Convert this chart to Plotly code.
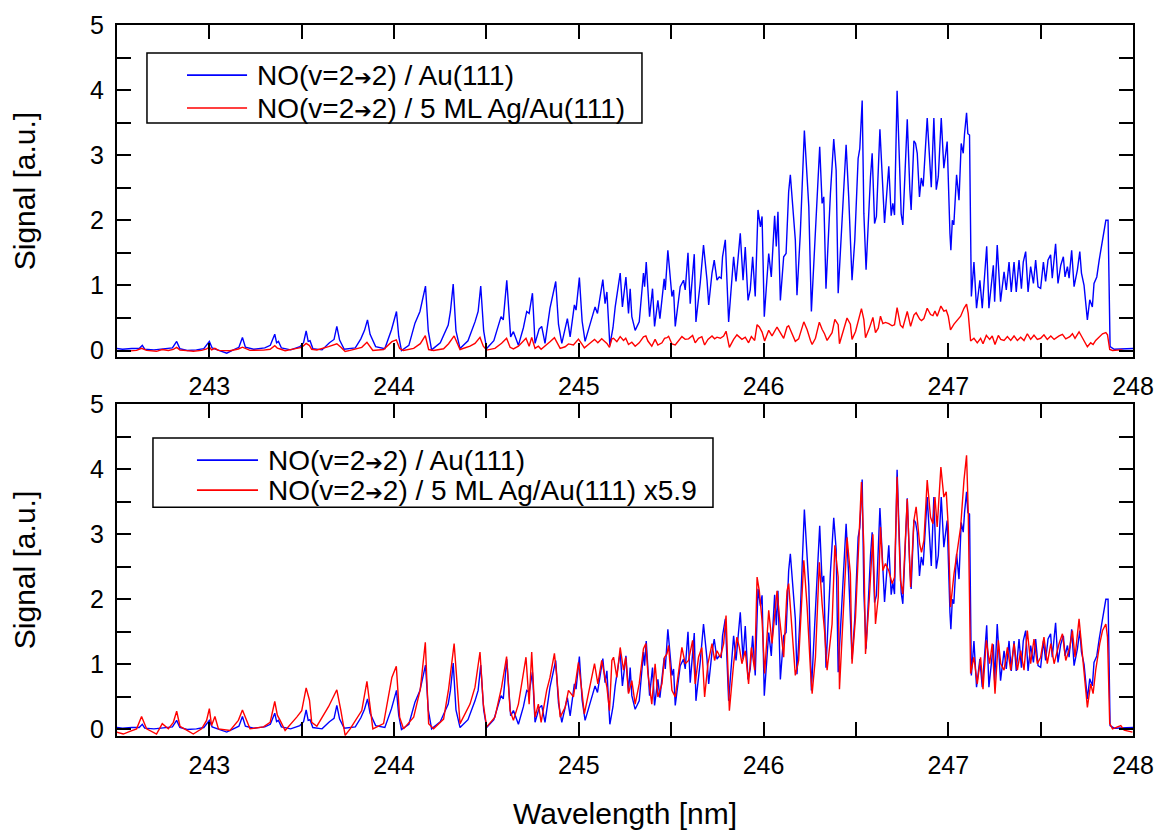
import plotly.graph_objects as go

# ---------------- data ----------------
# NO(v=2->2) / Au(111)  : wavelength [nm], signal [a.u.]
au_wl = [
    242.50, 242.53, 242.58, 242.62, 242.637, 242.65, 242.70, 242.75, 242.80, 242.823, 242.84, 242.88,
    242.93, 242.97, 243.00, 243.015, 243.05, 243.094, 243.13, 243.16, 243.179, 243.195, 243.24, 243.30,
    243.33, 243.354, 243.364, 243.374, 243.39, 243.44, 243.49, 243.51, 243.524, 243.535, 243.545, 243.56,
    243.61, 243.65, 243.675, 243.69, 243.705, 243.73, 243.79, 243.82, 243.84, 243.856, 243.87, 243.90,
    243.95, 243.986, 244.013, 244.025, 244.04,
    244.08, 244.113, 244.14, 244.17, 244.185, 244.203, 244.25, 244.293, 244.305, 244.32, 244.335, 244.357,
    244.40, 244.438, 244.455, 244.469, 244.485, 244.501, 244.54, 244.579, 244.591, 244.61, 244.631, 244.646,
    244.673, 244.70, 244.718, 244.731, 244.749, 244.763, 244.785, 244.799, 244.817, 244.844, 244.875, 244.89,
    244.908, 244.938, 244.953, 244.976, 244.985, 245.003, 245.018, 245.034, 245.06, 245.088, 245.101, 245.13,
    245.142, 245.152, 245.168, 245.185,
    245.197, 245.224, 245.236, 245.255, 245.269, 245.278, 245.287, 245.305, 245.327, 245.35, 245.356, 245.365,
    245.383, 245.399, 245.41, 245.428, 245.439, 245.462, 245.468, 245.482, 245.504, 245.513, 245.522, 245.549,
    245.567, 245.576, 245.591, 245.603, 245.625, 245.634, 245.657, 245.675, 245.694, 245.703, 245.721, 245.733,
    245.748, 245.76, 245.771, 245.778, 245.793, 245.811, 245.838, 245.851, 245.874, 245.889, 245.901, 245.916,
    245.928, 245.941, 245.955, 245.97, 245.983, 245.992, 246.004, 246.028, 246.042, 246.06, 246.069, 246.078,
    246.091, 246.109, 246.122, 246.136, 246.145, 246.154, 246.172, 246.181, 246.199, 246.221, 246.236, 246.245,
    246.259, 246.281, 246.304, 246.317, 246.326, 246.338, 246.362, 246.38, 246.393, 246.404, 246.431, 246.447,
    246.461, 246.479, 246.494, 246.512, 246.521, 246.534, 246.543, 246.555,
    246.579, 246.588, 246.601, 246.611, 246.63, 246.639, 246.646, 246.655, 246.678, 246.691, 246.70, 246.709,
    246.723, 246.738, 246.745, 246.754, 246.778, 246.792, 246.799, 246.814, 246.823, 246.832, 246.844, 246.854,
    246.864, 246.886, 246.895, 246.908, 246.922, 246.935, 246.946, 246.962, 246.976, 246.994, 247.009, 247.014,
    247.022, 247.03, 247.045, 247.058, 247.07, 247.081, 247.088, 247.099, 247.106, 247.115, 247.125, 247.139,
    247.153, 247.171, 247.184, 247.208, 247.22, 247.244, 247.251, 247.265, 247.283, 247.302, 247.314, 247.329,
    247.341, 247.356, 247.368, 247.383, 247.396, 247.406, 247.419, 247.432, 247.446, 247.461, 247.473, 247.486,
    247.50, 247.515, 247.527, 247.54, 247.554, 247.563, 247.581, 247.594, 247.609, 247.623, 247.632, 247.645,
    247.654, 247.668, 247.681, 247.699, 247.712, 247.721, 247.735, 247.753, 247.766, 247.78, 247.789, 247.804,
    247.817, 247.829, 247.838, 247.853, 247.865, 247.876, 247.898, 247.952, 248.00,
]
au_sig = [
    0.03, 0.02, 0.03, 0.03, 0.08, 0.02, 0.01, 0.02, 0.04, 0.14, 0.03, 0.00,
    0.01, 0.03, 0.14, 0.04, 0.00, -0.04, 0.01, 0.05, 0.20, 0.05, 0.02, 0.04,
    0.08, 0.25, 0.12, 0.14, 0.04, 0.01, 0.06, 0.12, 0.30, 0.14, 0.15, 0.03,
    0.01, 0.12, 0.17, 0.37, 0.16, 0.02, 0.04, 0.18, 0.31, 0.47, 0.25, 0.06,
    0.03, 0.32, 0.60, 0.22, 0.00,
    0.08, 0.42, 0.60, 0.99, 0.30, 0.01, 0.12, 0.39, 0.60, 1.02, 0.30, 0.03,
    0.15, 0.44, 0.60, 0.99, 0.30, 0.03, 0.15, 0.52, 0.47, 1.08, 0.21, 0.29,
    0.08, 0.35, 0.60, 0.57, 0.88, 0.11, 0.33, 0.37, 0.11, 0.65, 1.06, 0.40,
    0.11, 0.49, 0.21, 0.70, 0.62, 1.12, 0.45, 0.14, 0.40, 0.67, 0.57, 1.09,
    0.72, 0.90, 0.08, 0.35,
    0.67, 1.19, 0.67, 1.13, 0.57, 0.95, 0.52, 0.31, 0.44, 1.19, 0.98, 1.36,
    0.52, 0.95, 0.37, 0.77, 0.49, 1.10, 0.93, 1.54, 0.83, 0.93, 0.37, 0.98,
    1.08, 0.93, 1.50, 0.72, 1.48, 0.44, 1.03, 1.62, 1.08, 0.70, 1.19, 1.39,
    1.08, 1.13, 1.11, 1.44, 1.70, 0.44, 1.44, 1.06, 1.80, 1.08, 1.59, 0.77,
    0.93, 1.44, 0.83, 2.16, 1.90, 2.06, 0.52, 1.49, 1.13, 2.07, 1.60, 2.13,
    0.77, 1.44, 1.49, 2.44, 2.70, 2.39, 1.70, 0.85, 1.80, 3.38, 2.57, 2.21,
    0.60, 1.80, 3.13, 2.26, 2.36, 0.95, 2.41, 3.25, 2.77, 0.88, 2.36, 3.16,
    2.36, 1.08, 1.70, 2.95, 3.10, 3.84, 2.11, 1.24,
    2.67, 3.03, 1.95, 2.06, 3.40, 2.87, 2.44, 1.96, 2.83, 2.07, 2.26, 2.08,
    3.99, 2.72, 2.10, 1.93, 3.55, 2.47, 2.16, 3.22, 3.18, 3.03, 2.36, 2.65,
    2.52, 3.57, 3.08, 2.51, 3.57, 2.47, 2.67, 3.57, 2.80, 3.21, 1.80, 1.54,
    2.00, 1.93, 2.70, 2.31, 3.18, 3.03, 3.33, 3.65, 3.33, 3.31, 0.83, 1.36,
    0.65, 1.08, 0.65, 1.60, 0.65, 1.31, 0.75, 1.62, 0.75, 1.21, 0.93, 1.36,
    0.90, 1.36, 0.90, 1.39, 0.95, 1.36, 1.52, 0.90, 1.29, 1.03, 1.39, 0.98,
    0.955, 1.36, 1.06, 1.39, 1.47, 1.11, 1.64, 1.03, 1.31, 1.44, 1.13, 1.29,
    1.11, 1.54, 0.98, 1.24, 1.52, 1.19, 1.00, 0.47, 0.78, 0.67, 1.03, 1.13,
    1.39, 1.60, 1.75, 2.00, 2.00, 0.06, 0.02, 0.03, 0.03,
]

# NO(v=2->2) / 5 ML Ag/Au(111), already multiplied by SCALE (as drawn in the lower panel)
SCALE = 5.9
ag_wl = [
    242.498, 242.534, 242.57, 242.606, 242.633, 242.66, 242.714, 242.745, 242.778, 242.805, 242.823, 242.841,
    242.877, 242.913, 242.958, 242.985, 243.00, 243.012, 243.03, 243.049, 243.112, 243.157, 243.179, 243.193,
    243.22, 243.293, 243.329, 243.354, 243.368, 243.383, 243.41, 243.473, 243.50, 243.524, 243.542, 243.554,
    243.582, 243.645, 243.69, 243.712, 243.735, 243.762, 243.825, 243.853, 243.867, 243.885, 243.943, 243.988,
    244.012, 244.03, 244.051, 244.106, 244.142, 244.169, 244.187, 244.214, 244.268, 244.295, 244.325,
    244.357, 244.411, 244.438, 244.465, 244.483, 244.501, 244.546, 244.582, 244.609, 244.628, 244.646, 244.673,
    244.691, 244.714, 244.731, 244.745, 244.763, 244.781, 244.796, 244.826, 244.844, 244.868, 244.881, 244.899,
    244.926, 244.944, 244.971, 244.998, 245.016, 245.03, 245.052, 245.07, 245.085, 245.103, 245.124, 245.137,
    245.152, 245.166, 245.179, 245.188, 245.206, 245.224, 245.242, 245.254, 245.269, 245.287, 245.305, 245.327,
    245.35, 245.363, 245.374, 245.395, 245.413, 245.428, 245.45, 245.464, 245.477, 245.486, 245.504, 245.522,
    245.544, 245.558, 245.576, 245.594, 245.616, 245.63, 245.648, 245.666, 245.681, 245.699, 245.721, 245.735,
    245.748, 245.766, 245.784, 245.797, 245.815, 245.838, 245.856, 245.869, 245.883, 245.901, 245.919, 245.934,
    245.952, 245.965, 245.977, 245.992, 246.006, 246.028, 246.046, 246.073, 246.086, 246.109, 246.127, 246.136,
    246.172, 246.19, 246.218, 246.236, 246.254, 246.263, 246.281, 246.302, 246.317, 246.33, 246.344, 246.371,
    246.386, 246.404, 246.411, 246.425, 246.452, 246.47, 246.479, 246.498, 246.516, 246.53, 246.543, 246.552,
    246.573, 246.592, 246.606, 246.621, 246.633, 246.646, 246.66, 246.678, 246.696, 246.709, 246.723, 246.741,
    246.754, 246.778, 246.796, 246.814, 246.826, 246.845, 246.855, 246.868, 246.886, 246.904, 246.917, 246.928,
    246.94, 246.96, 246.976, 246.989, 247.00, 247.012, 247.031, 247.049, 247.067, 247.085, 247.099, 247.108,
    247.121, 247.139, 247.157, 247.175, 247.188, 247.206, 247.224, 247.238, 247.253, 247.271, 247.284, 247.302,
    247.32, 247.338, 247.356, 247.374, 247.392, 247.41, 247.428, 247.446, 247.464, 247.482, 247.50, 247.518,
    247.536, 247.555, 247.573, 247.60, 247.618, 247.636, 247.658, 247.672, 247.686, 247.708, 247.723, 247.741,
    247.753, 247.771, 247.784, 247.798, 247.82, 247.835, 247.853, 247.862, 247.874, 247.889, 247.934, 247.952,
    247.997,
]
ag_sig_scaled = [
    -0.04, -0.07, -0.03, 0.01, 0.20, 0.01, -0.07, 0.09, 0.01, 0.11, 0.28, 0.05,
    -0.01, -0.07, 0.01, 0.14, 0.32, 0.06, 0.20, 0.01, -0.015, 0.14, 0.30, 0.20,
    0.01, 0.04, 0.11, 0.43, 0.22, 0.14, -0.015, 0.19, 0.29, 0.64, 0.45, 0.11,
    0.05, 0.35, 0.61, 0.29, -0.09, 0.01, 0.29, 0.74, 0.40, 0.01, 0.09, 0.80,
    0.97, 0.19, 0.01, 0.19, 0.62, 1.34, 0.09, 0.01, 0.16, 0.62, 1.32,
    0.09, 0.39, 0.65, 1.19, 0.39, 0.04, 0.19, 0.65, 1.12, 0.29, 0.14, 0.39,
    0.70, 1.11, 0.39, 1.19, 0.19, 0.39, 0.11, 0.60, 0.80, 1.17, 0.80, 0.19,
    0.34, 0.60, 0.50, 1.03, 0.60, 0.24, 0.55, 0.78, 1.01, 0.70, 1.06, 0.87,
    0.65, 0.29, 1.06, 1.11, 0.80, 1.26, 0.91, 1.11, 0.55, 0.75, 0.39, 0.70,
    1.24, 1.32, 0.86, 0.39, 1.01, 0.50, 0.70, 1.11, 1.16, 1.29, 0.60, 0.50,
    1.01, 1.26, 1.01, 1.06, 1.37, 0.70, 1.11, 1.26, 0.50, 1.01, 1.32, 1.06,
    1.21, 1.11, 1.32, 1.75, 0.29, 1.01, 1.42, 1.26, 1.01, 1.21, 0.70, 1.26,
    0.91, 2.34, 2.13, 1.67, 0.86, 1.83, 1.32, 2.13, 1.73, 1.11, 2.13, 2.24,
    0.83, 1.06, 2.60, 1.88, 0.91, 0.55, 1.11, 2.57, 1.93, 1.52, 0.91, 1.62,
    2.83, 2.34, 0.62, 1.42, 2.95, 2.39, 1.01, 1.73, 2.80, 3.80, 2.80, 1.16,
    2.03, 3.00, 1.62, 2.03, 3.11, 2.44, 2.55, 2.44, 2.24, 2.34, 3.88, 2.29,
    2.08, 3.54, 2.19, 3.21, 3.42, 2.85, 2.72, 2.90, 3.83, 3.26, 3.16, 3.57,
    3.11, 4.03, 3.57, 3.65, 3.11, 1.88, 2.39, 2.75, 3.11, 3.83, 4.21, 3.36,
    0.86, 1.11, 0.70, 1.11, 0.62, 1.37, 1.01, 1.32, 0.55, 1.37, 1.01, 0.91,
    1.26, 0.91, 1.32, 0.91, 1.21, 0.91, 1.52, 1.01, 1.39, 1.01, 1.11, 1.42,
    1.01, 1.32, 1.01, 1.32, 1.47, 1.06, 1.26, 1.52, 1.11, 1.70, 1.21, 0.70,
    0.34, 0.70, 0.55, 0.91, 1.32, 1.52, 1.62, 1.42, 0.09, 0.01, 0.06, -0.01,
    -0.04,
]
ag_sig = [v / SCALE for v in ag_sig_scaled]

x_tickvals = [242.5, 243, 243.5, 244, 244.5, 245, 245.5, 246, 246.5, 247, 247.5, 248]
x_ticktext = ["", "243", "", "244", "", "245", "", "246", "", "247", "", "248"]
y_tickvals = [0, 0.5, 1, 1.5, 2, 2.5, 3, 3.5, 4, 4.5, 5]
y_ticktext = ["0", "", "1", "", "2", "", "3", "", "4", "", "5"]

ARROW = "<span style='font-family:DejaVu Sans;font-size:21px'>\u2794</span>"
name_au = "NO(v=2" + ARROW + "2) / Au(111)"
name_ag = "NO(v=2" + ARROW + "2) / 5 ML Ag/Au(111)"
name_ag_scaled = "NO(v=2" + ARROW + "2) / 5 ML Ag/Au(111) x5.9"

BLUE = "#0000ff"
RED = "#ff0000"
FONT = "Liberation Sans, Arial, Helvetica, sans-serif"

fig = go.Figure()
fig.add_trace(go.Scatter(x=au_wl, y=au_sig, mode="lines", name=name_au,
                         line=dict(color=BLUE, width=1.4), xaxis="x", yaxis="y", showlegend=False))
fig.add_trace(go.Scatter(x=ag_wl, y=ag_sig, mode="lines", name=name_ag,
                         line=dict(color=RED, width=1.4), xaxis="x", yaxis="y", showlegend=False))
fig.add_trace(go.Scatter(x=au_wl, y=au_sig, mode="lines", name=name_au,
                         line=dict(color=BLUE, width=1.4), xaxis="x2", yaxis="y2", showlegend=False))
fig.add_trace(go.Scatter(x=ag_wl, y=ag_sig_scaled, mode="lines", name=name_ag_scaled,
                         line=dict(color=RED, width=1.4), xaxis="x2", yaxis="y2", showlegend=False))

axis_common = dict(
    showline=True, linecolor="black", linewidth=2, mirror="allticks",
    ticks="inside", ticklen=14, tickwidth=1.6, tickcolor="black",
    showgrid=False, zeroline=False, tickmode="array",
    tickfont=dict(family=FONT, size=25, color="black"),
    ticklabelstandoff=6, automargin=False,
)
xr = [242.5, 248.0]
yr = [-0.1, 5.0]

fig.update_layout(
    width=1156, height=830,
    margin=dict(l=117, r=23, t=25, b=94),
    paper_bgcolor="white", plot_bgcolor="white",
    font=dict(family=FONT, color="black"),
    xaxis=dict(axis_common, domain=[0, 1], anchor="y", range=xr,
               tickvals=x_tickvals, ticktext=x_ticktext),
    yaxis=dict(axis_common, domain=[0.533, 1.0], anchor="x", range=yr,
               tickvals=y_tickvals, ticktext=y_ticktext,
               title=dict(text="Signal [a.u.]", font=dict(family=FONT, size=30, color="black"), standoff=46)),
    xaxis2=dict(axis_common, domain=[0, 1], anchor="y2", range=xr,
                tickvals=x_tickvals, ticktext=x_ticktext,
                title=dict(text="Wavelength [nm]", font=dict(family=FONT, size=30, color="black"), standoff=28)),
    yaxis2=dict(axis_common, domain=[0.0, 0.467], anchor="x2", range=yr,
                tickvals=y_tickvals, ticktext=y_ticktext,
                title=dict(text="Signal [a.u.]", font=dict(family=FONT, size=30, color="black"), standoff=46)),
)

# ---- legends (boxes with line samples and labels, one per panel) ----
def add_legend(xref, yref, box, entries):
    x0, x1, y0, y1 = box
    fig.add_shape(type="rect", xref=xref, yref=yref, x0=x0, x1=x1, y0=y0, y1=y1,
                  line=dict(color="black", width=1.5), fillcolor="white", layer="above")
    for (lx0, lx1, ly, tx, text, color) in entries:
        fig.add_shape(type="line", xref=xref, yref=yref, x0=lx0, x1=lx1, y0=ly, y1=ly,
                      line=dict(color=color, width=1.6), layer="above")
        fig.add_annotation(xref=xref, yref=yref, x=tx, y=ly, text=text, showarrow=False,
                           xanchor="left", yanchor="middle",
                           font=dict(family=FONT, size=28, color="black"))

add_legend("x domain", "y domain", (0.0295, 0.5167, 0.7048, 0.9157), [
    (0.0689, 0.128, 0.849, 0.1358, name_au, BLUE),
    (0.0689, 0.128, 0.750, 0.1358, name_ag, RED),
])
add_legend("x2 domain", "y2 domain", (0.0354, 0.5866, 0.6893, 0.8974), [
    (0.0787, 0.1388, 0.831, 0.1464, name_au, BLUE),
    (0.0787, 0.1388, 0.7406, 0.1464, name_ag_scaled, RED),
])

fig.write_html("out.html")
